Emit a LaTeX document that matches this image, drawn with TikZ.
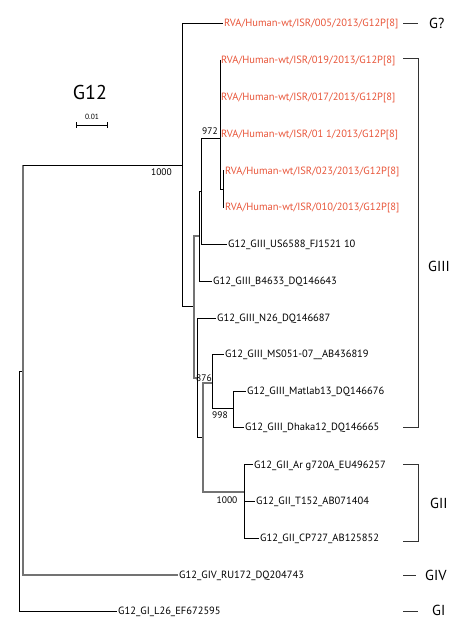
\documentclass[tikz,border=0pt]{standalone}
\usepackage{fontspec}
\setmainfont{PT Sans}
\definecolor{isrred}{RGB}{232,84,56}
\newcommand{\leaffont}{\fontsize{10.5}{12}\selectfont}
\newcommand{\bootfont}{\fontsize{9.5}{11}\selectfont}
\newcommand{\cladefont}{\fontsize{14.5}{16}\selectfont}
\newcommand{\titlefont}{\fontsize{20}{22}\selectfont}
\tikzset{
    leaf/.style={anchor=west, inner sep=1pt, text height=7pt, text depth=0pt, font=\leaffont},
    isolate/.style={leaf, text=isrred},
    support/.style={inner sep=0pt, font=\bootfont},
    clade/.style={anchor=west, inner sep=0pt, font=\cladefont},
    branch/.style={line width=0.6pt},
    softbranch/.style={line width=1.1pt, draw=black!55},
    bracket/.style={line width=0.8pt, draw=black!80},
    scalebar/.style={line width=0.6pt, {|-|}}
}

\begin{document}
\begin{tikzpicture}[x=1pt, y=-1pt]
    \useasboundingbox (0,0) rectangle (455,633);
    % internal nodes of the tree
    \coordinate (nRoot) at (19,491);
    \coordinate (nP) at (23,371);
    \coordinate (nA) at (182,165);
    \coordinate (nB) at (194,306);
    \coordinate (nC) at (199,236);
    \coordinate (nI) at (201,191);
    \coordinate (nJ) at (220,138);
    \coordinate (nK) at (223,189);
    \coordinate (nD) at (197,378);
    \coordinate (nE) at (203,437);
    \coordinate (nF) at (212,383);
    \coordinate (nG) at (233,408);
    \coordinate (nH) at (244,492);
    % leaves
    \node[isolate] (l005) at (223,23) {RVA/Human-wt/ISR/005/2013/G12P[8]};
    \node[isolate] (l019) at (220,60) {RVA/Human-wt/ISR/019/2013/G12P[8]};
    \node[isolate] (l017) at (220,97) {RVA/Human-wt/ISR/017/2013/G12P[8]};
    \node[isolate] (l011) at (220,133.5) {RVA/Human-wt/ISR/01 1/2013/G12P[8]};
    \node[isolate] (l023) at (224,170.5) {RVA/Human-wt/ISR/023/2013/G12P[8]};
    \node[isolate] (l010) at (224,207) {RVA/Human-wt/ISR/010/2013/G12P[8]};
    \node[leaf] (lUS6588) at (227,244) {G12\_GIII\_US6588\_FJ1521 10};
    \node[leaf] (lB4633) at (212,281) {G12\_GIII\_B4633\_DQ146643};
    \node[leaf] (lN26) at (216,318) {G12\_GIII\_N26\_DQ146687};
    \node[leaf] (lMS051) at (224,354) {G12\_GIII\_MS051-07\_\_AB436819};
    \node[leaf] (lMatlab) at (246,391) {G12\_GIII\_Matlab13\_DQ146676};
    \node[leaf] (lDhaka) at (244,427) {G12\_GIII\_Dhaka12\_DQ146665};
    \node[leaf] (lAr) at (253,464.5) {G12\_GII\_Ar g720A\_EU496257};
    \node[leaf] (lT152) at (255,501) {G12\_GII\_T152\_AB071404};
    \node[leaf] (lCP727) at (259,538) {G12\_GII\_CP727\_AB125852};
    \node[leaf] (lGIV) at (178,575) {G12\_GIV\_RU172\_DQ204743};
    \node[leaf] (lGI) at (117,611) {G12\_GI\_L26\_EF672595};
    % branches
    \draw[branch] (nRoot) |- (nP);
    \draw[branch] (nRoot) |- (lGI.west);
    \draw[softbranch] (nP |- nA) -- (nP |- lGIV.west) -- (lGIV.west);
    \draw[branch] (nP |- nA) -- (nA);
    \draw[branch] (nA) |- (l005.west);
    \draw[branch] (nA) |- (nB);
    \draw[softbranch] (nB) |- (nC);
    \draw[softbranch] (nB) |- (nD);
    \draw[branch] (nC) |- (nI);
    \draw[branch] (nC) |- (lB4633.west);
    \draw[branch] (nI) |- (nJ);
    \draw[branch] (nI) |- (lUS6588.west);
    \draw[branch] (nJ) |- (l019.west);
    \draw[branch] (nJ) |- (l017.west);
    \draw[branch] (nJ) |- (l011.west);
    \draw[branch] (nJ) |- (nK);
    \draw[branch] (nK) |- (l023.west);
    \draw[branch] (nK) |- (l010.west);
    \draw[branch] (nD) |- (lN26.west);
    \draw[branch] (nD) |- (nE);
    \draw[softbranch] (nE) |- (nF);
    \draw[softbranch] (nE) |- (nH);
    \draw[branch] (nF) |- (lMS051.west);
    \draw[branch] (nF) |- (nG);
    \draw[branch] (nG) |- (lMatlab.west);
    \draw[branch] (nG) |- (lDhaka.west);
    \draw[branch] (nH) |- (lAr.west);
    \draw[branch] (nH) |- (lT152.west);
    \draw[branch] (nH) |- (lCP727.west);
    % bootstrap values
    \node[support, anchor=east] (bsA) at (172,172) {1000};
    \node[support] (bsJ) at (210,131) {972};
    \node[support] (bsD) at (204,378) {876};
    \node[support] (bsG) at (220,415) {998};
    \node[support] (bsH) at (227,500) {1000};
    % title and scale
    \node[font=\titlefont, inner sep=0pt] (title) at (90,92) {G12};
    \coordinate (sbL) at (76,125);
    \coordinate (sbR) at (108,125);
    \draw[scalebar] (sbL) -- (sbR);
    \node[font=\fontsize{7.5}{9}\selectfont, inner sep=0pt] (sbText) at (92,117) {0.01};
    % genotype brackets
    \draw[bracket] (403,23) -- (418,23);
    \node[clade] (cGq) at (429,23) {G?};
    \draw[bracket] (403,58) -| (418,427) -- (403,427);
    \node[clade] (cGIII) at (428,266) {GIII};
    \draw[bracket] (403,464) -| (418,541) -- (403,541);
    \node[clade] (cGII) at (430,503) {GII};
    \draw[bracket] (403,575) -- (416,575);
    \node[clade] (cGIV) at (425,575) {GIV};
    \draw[bracket] (403,611) -- (418,611);
    \node[clade] (cGI) at (432,610) {GI};
\end{tikzpicture}
\end{document}
